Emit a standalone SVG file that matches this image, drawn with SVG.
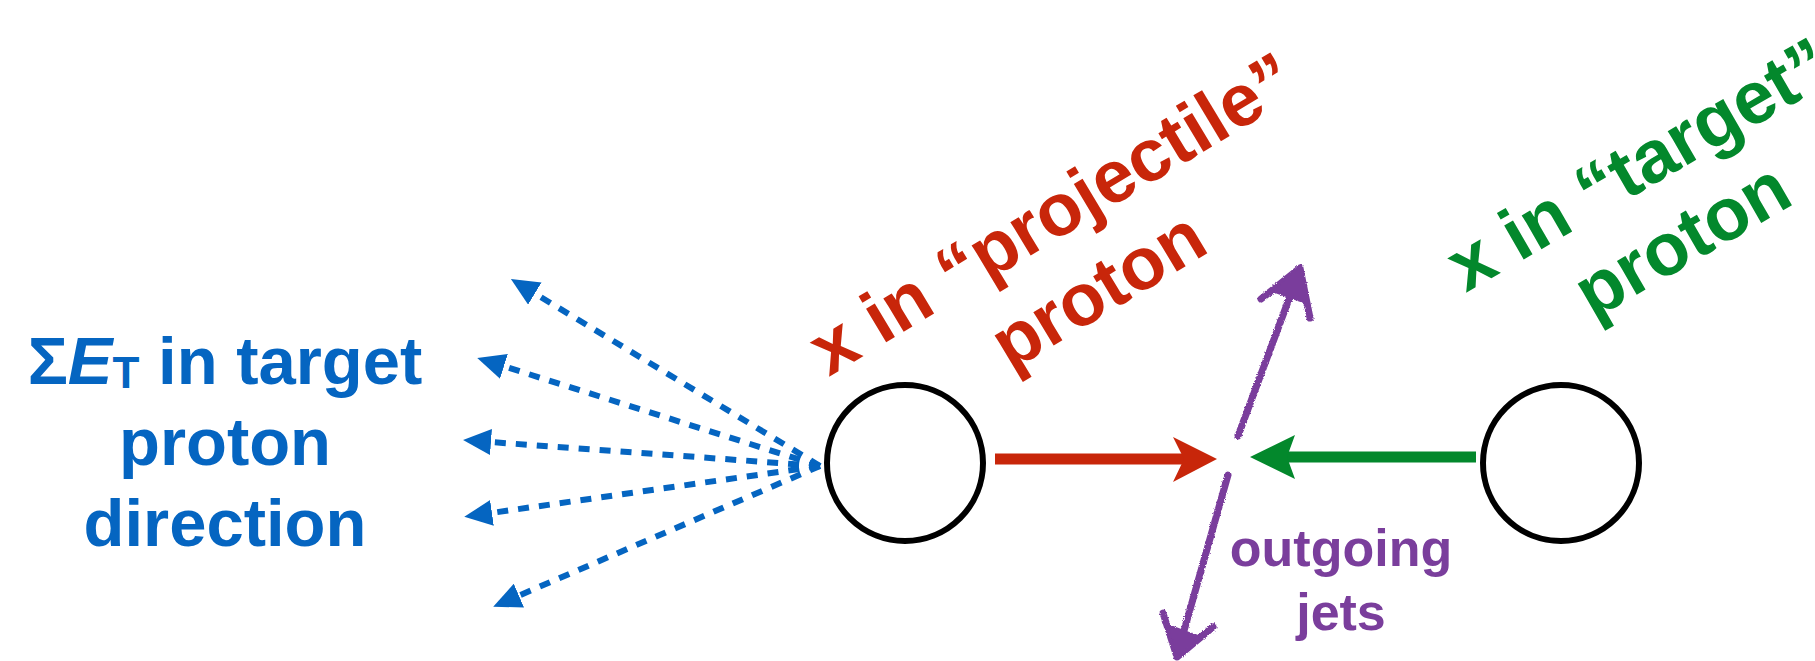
<svg xmlns="http://www.w3.org/2000/svg" width="1815" height="661" viewBox="0 0 1815 661">
<style>
  .t { font-family: "Liberation Sans", Arial, sans-serif; font-weight: bold; }
  .blue { fill: #0565C1; }
  .red { fill: #C8260A; }
  .green { fill: #03882C; }
  .purple { fill: #7A3E9C; }
  .dash { stroke: #0565C1; stroke-width: 6; stroke-dasharray: 11 10; fill: none; marker-end: url(#blueHead); }
  .proton { fill: #fff; stroke: #000; stroke-width: 6; }
  .jet { stroke: #7A3E9C; stroke-width: 7; fill: none; stroke-linecap: round; stroke-linejoin: round; filter: url(#crayon); }
</style>
<defs>
  <marker id="blueHead" markerUnits="userSpaceOnUse" markerWidth="28" markerHeight="26" viewBox="0 0 28 26" refX="1" refY="13" orient="auto">
    <path d="M0,0 L28,13 L0,26 z" fill="#0565C1"/>
  </marker>
  <filter id="crayon" x="-20%" y="-20%" width="140%" height="140%">
    <feTurbulence type="fractalNoise" baseFrequency="0.9" numOctaves="2" seed="3" result="n"/>
    <feDisplacementMap in="SourceGraphic" in2="n" scale="3" xChannelSelector="R" yChannelSelector="G"/>
  </filter>
</defs>

<g id="label-sumET">
  <text class="t blue" x="225" y="384" font-size="67" text-anchor="middle">Σ<tspan font-style="italic">E</tspan><tspan font-size="44" dy="4">T</tspan><tspan dy="-4"> in target</tspan></text>
  <text class="t blue" x="225" y="465" font-size="67" text-anchor="middle">proton</text>
  <text class="t blue" x="225" y="546" font-size="67" text-anchor="middle">direction</text>
</g>

<g id="connectors">
  <path class="dash" d="M820,466 L534,293"/>
  <path class="dash" d="M820,466 L503,366"/>
  <path class="dash" d="M820,466 L490,442"/>
  <path class="dash" d="M820,466 L491,513"/>
  <path class="dash" d="M820,466 L518,596"/>

  <line x1="995" y1="459" x2="1186" y2="459" stroke="#C8260A" stroke-width="11"/>
  <polygon points="1217,459 1173,437 1184,459 1173,482" fill="#C8260A"/>

  <line x1="1476" y1="457" x2="1284" y2="457" stroke="#03882C" stroke-width="11"/>
  <polygon points="1250,457 1295,435 1287,457 1295,479" fill="#03882C"/>

  <g id="jet-up">
    <path class="jet" d="M1238,436 L1299,272"/>
    <path class="jet" d="M1261,299 L1300,268 L1310,318"/>
    <polygon points="1300,268 1272,292 1306,304" fill="#7A3E9C" filter="url(#crayon)"/>
  </g>
  <g id="jet-down">
    <path class="jet" d="M1228,475 L1178,652"/>
    <path class="jet" d="M1163,613 L1177,657 L1213,627"/>
    <polygon points="1177,657 1168,624 1200,636" fill="#7A3E9C" filter="url(#crayon)"/>
  </g>
</g>

<g id="proton-projectile">
  <circle class="proton" cx="905" cy="463" r="78"/>
</g>
<g id="proton-target">
  <circle class="proton" cx="1561" cy="463" r="78"/>
</g>

<g id="label-projectile">
  <g transform="translate(1065,235) rotate(-31)">
    <text class="t red" x="0" y="0" font-size="74" text-anchor="middle">x in “projectile”</text>
    <text class="t red" x="0" y="89" font-size="74" text-anchor="middle">proton</text>
  </g>
</g>

<g id="label-target">
  <g transform="translate(1651,186) rotate(-30)">
    <text class="t green" x="0" y="0" font-size="74" text-anchor="middle">x in “target”</text>
    <text class="t green" x="0" y="87" font-size="74" text-anchor="middle">proton</text>
  </g>
</g>

<g id="label-jets">
  <text class="t purple" x="1341" y="566" font-size="52" text-anchor="middle">outgoing</text>
  <text class="t purple" x="1341" y="630" font-size="52" text-anchor="middle">jets</text>
</g>
</svg>
